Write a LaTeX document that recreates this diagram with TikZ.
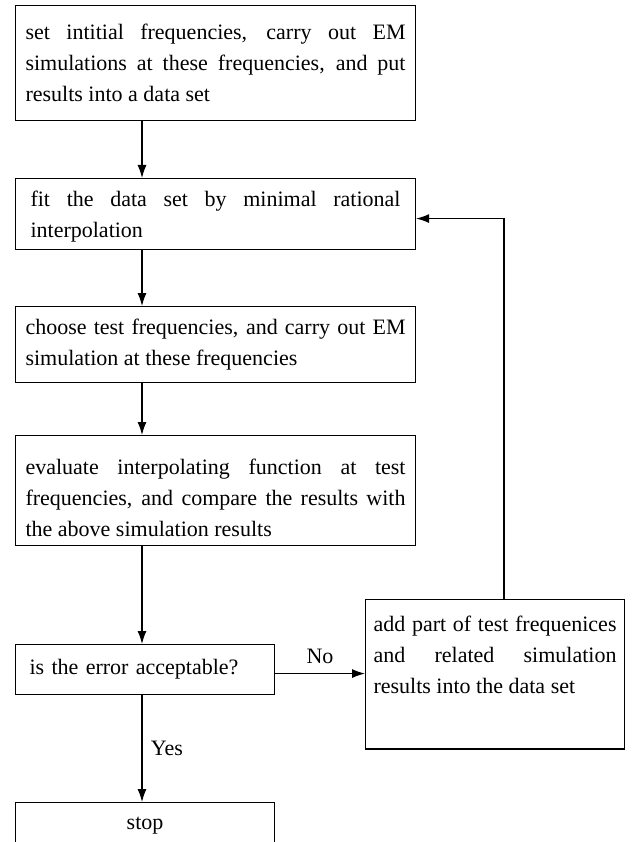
\documentclass[tikz,border=0pt]{standalone}
\usepackage{fontspec}
\setmainfont{Liberation Serif}
\usetikzlibrary{arrows.meta}
\begin{document}
\begin{tikzpicture}[x=1pt,y=-1pt,
  txt/.style={font=\fontsize{22pt}{31pt}\selectfont},
  box/.style={txt, draw, line width=1.1pt, anchor=north west, inner xsep=10pt, inner ysep=0pt,
              text width=380pt, minimum width=400pt, align=justify},
  arr/.style={line width=1.2pt, -{Latex[length=13pt,width=9pt]}}]
\useasboundingbox (0,0) rectangle (633,842);
\clip (0,0) rectangle (633,842);
\coordinate (ax) at (142,0);
\node[box, minimum height=115pt] (b1) at (15,5)
  {set intitial frequencies, carry out EM\linebreak simulations at these frequencies, and put\linebreak results into a data set};
\node[box, minimum height=71pt, text width=370pt, inner xsep=15pt] (b2) at (15,178)
  {\rule{0pt}{21pt}fit the data set by minimal rational\linebreak interpolation};
\node[box, minimum height=76pt] (b3) at (15,306)
  {choose test frequencies, and carry out EM\linebreak simulation at these frequencies};
\node[box, minimum height=110pt] (b4) at (15,435)
  {\rule{0pt}{30pt}evaluate interpolating function at test\linebreak frequencies, and compare the results with\linebreak the above simulation results};
\node[box, minimum height=50pt, minimum width=259pt, text width=231pt, inner xsep=14pt, align=left] (b5) at (15,644)
  {is the error acceptable?};
\node[box, minimum height=46pt, minimum width=259pt, text width=231pt, inner xsep=14pt, align=center] (stop) at (15,802)
  {stop\hspace*{15pt}};
\node[box, minimum width=259pt, text width=243pt, inner xsep=8pt, inner ysep=16pt, text depth=102pt] (r) at (365,599)
  {add part of test frequenices\linebreak and related simulation\linebreak results into the data set};
\draw[arr] (b1.south -| ax) -- (b2.north -| ax);
\draw[arr] (b2.south -| ax) -- (b3.north -| ax);
\draw[arr] (b3.south -| ax) -- (b4.north -| ax);
\draw[arr] (b4.south -| ax) -- (b5.north -| ax);
\draw[arr] (b5.south -| ax) -- node[txt, right=5pt] {Yes} (stop.north -| ax);
\draw[arr] ([yshift=-4pt]b5.east) -- node[txt, above=6pt] {No} ([yshift=-4pt]b5.east -| r.west);
\draw[arr] ([xshift=9pt]r.north) |- ([yshift=-4.5pt]b2.east);
\end{tikzpicture}
\end{document}
